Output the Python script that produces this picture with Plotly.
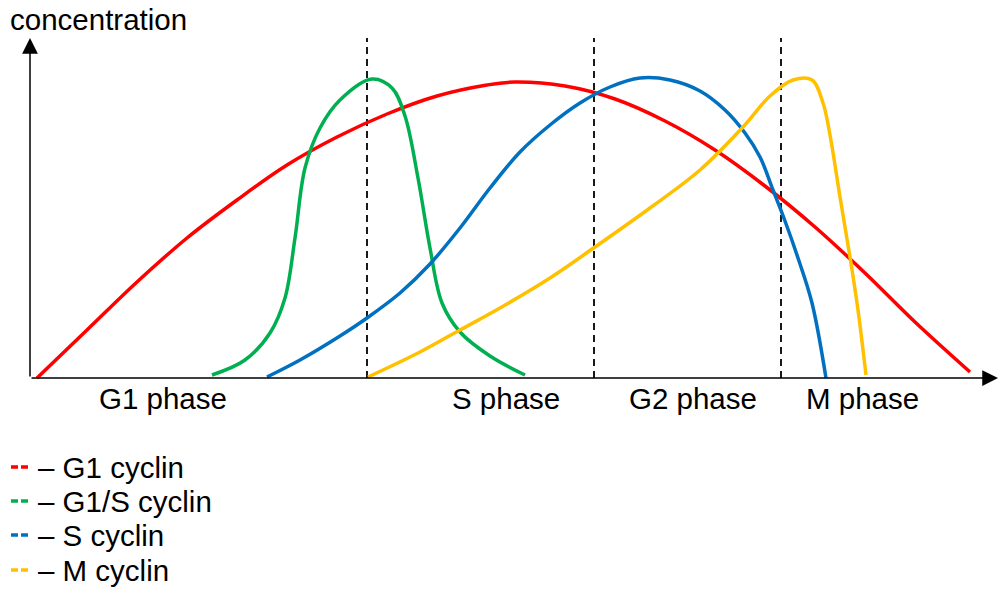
import plotly.graph_objects as go

# Data (x: time position, y: concentration, baseline 0)
g1_x = [37, 87, 137, 187, 237, 287, 337, 387, 437, 487, 515, 565, 615, 665, 715, 765, 815, 865, 915, 970]
g1_y = [0, 48, 96, 140, 178, 213, 241, 264, 282, 293, 296, 292, 279, 257, 228, 192, 151, 105, 56, 6]

g1s_x = [212, 245, 270, 285, 295, 305, 320, 340, 372, 392, 405, 418, 430, 442, 460, 490, 525]
g1s_y = [3, 18, 45, 80, 140, 210, 250, 278, 299, 290, 262, 200, 130, 75, 46, 22, 3]

s_x = [267, 300, 340, 367, 400, 430, 460, 490, 520, 550, 580, 610, 640, 670, 700, 725, 745, 760, 773, 785, 798, 812, 826]
s_y = [1, 18, 42, 60, 85, 114, 150, 190, 226, 253, 275, 291, 300, 298, 287, 268, 245, 221, 188, 157, 120, 75, 0]

m_x = [368, 420, 460, 500, 550, 595, 650, 700, 743, 770, 793, 812, 823, 830, 840, 850, 858, 866]
m_y = [1, 26, 48, 70, 100, 131, 170, 208, 251, 282, 298, 298, 275, 243, 181, 121, 68, 3]

phase_bounds = [367, 594, 781]
phase_labels = ["G1 phase", "S phase", "G2 phase", "M phase"]
phase_label_x = [163, 506, 693, 862]

series_names = ["G1 cyclin", "G1/S cyclin", "S cyclin", "M cyclin"]
series_colors = ["#ff0000", "#00b050", "#0070c0", "#ffc000"]
series_x = [g1_x, g1s_x, s_x, m_x]
series_y = [g1_y, g1s_y, s_y, m_y]

FONT = "Liberation Sans, Arial, sans-serif"
FS = 29.5

fig = go.Figure()

# phase boundaries (dashed)
for xb in phase_bounds:
    fig.add_trace(go.Scatter(x=[xb, xb], y=[0, 340], mode="lines",
                             line=dict(color="black", width=1.8, dash="7px,5px"),
                             showlegend=False, hoverinfo="skip"))

for name, col, xs, ys in zip(series_names, series_colors, series_x, series_y):
    fig.add_trace(go.Scatter(x=xs, y=ys, mode="lines", name=name,
                             line=dict(color=col, width=3.5, shape="spline", smoothing=1.0),
                             showlegend=False))

annotations = []
# axes arrows
annotations.append(dict(x=998, y=0, ax=30, ay=0, xref="x", yref="y", axref="x", ayref="y",
                        showarrow=True, arrowhead=2, arrowsize=2.1, arrowwidth=1.5,
                        arrowcolor="black", text=""))
annotations.append(dict(x=30, y=340, ax=30, ay=0, xref="x", yref="y", axref="x", ayref="y",
                        showarrow=True, arrowhead=2, arrowsize=2.1, arrowwidth=1.5,
                        arrowcolor="black", text=""))
annotations.append(dict(x=8, y=359, xref="x", yref="y", text="concentration", showarrow=False,
                        xanchor="left", yanchor="middle", font=dict(family=FONT, size=FS, color="black")))

for lbl, lx in zip(phase_labels, phase_label_x):
    annotations.append(dict(x=lx, y=-20, xref="x", yref="y", text=lbl, showarrow=False,
                            xanchor="center", yanchor="middle",
                            font=dict(family=FONT, size=FS, color="black")))

# custom legend
legend_y = [-89, -123, -157, -192]
for name, col, ly in zip(series_names, series_colors, legend_y):
    annotations.append(dict(x=36, y=ly, xref="x", yref="y", text="\u2013 " + name, showarrow=False,
                            xanchor="left", yanchor="middle",
                            font=dict(family=FONT, size=FS, color="black")))
    fig.add_shape(type="line", x0=11, x1=18, y0=ly, y1=ly, xref="x", yref="y",
                  line=dict(color=col, width=3.5))
    fig.add_shape(type="line", x0=21, x1=28, y0=ly, y1=ly, xref="x", yref="y",
                  line=dict(color=col, width=3.5))

fig.update_layout(
    width=1003, height=593,
    margin=dict(l=0, r=0, t=0, b=0),
    paper_bgcolor="white", plot_bgcolor="white",
    annotations=annotations,
    xaxis=dict(range=[0, 1003], visible=False, fixedrange=True),
    yaxis=dict(range=[-215, 378], visible=False, fixedrange=True),
)

fig.write_html("out.html", config={"displayModeBar": False},
               post_script="document.body.style.margin='0';document.body.style.overflow='hidden';")
